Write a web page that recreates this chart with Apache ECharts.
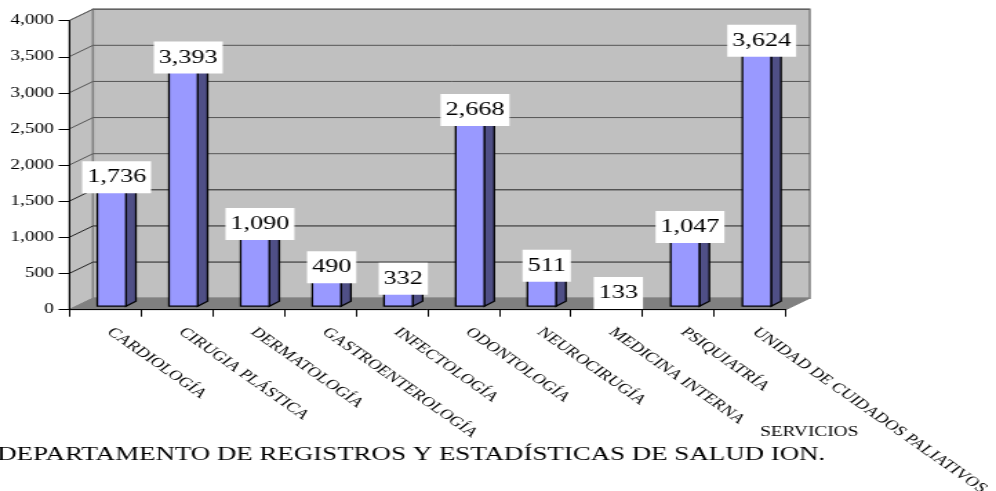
<!DOCTYPE html>
<html>
<head>
<meta charset="utf-8">
<title>Servicios</title>
<script src="https://cdn.jsdelivr.net/npm/echarts@6/dist/echarts.min.js"></script>
<style>
  html, body { margin: 0; padding: 0; background: #fff; overflow: hidden; }
  /* the reference is a chart stretched sideways, so the whole canvas is stretched too */
  #Bar { width: 722px; height: 491px; transform: scaleX(1.3795); transform-origin: 0 0; }
</style>
</head>
<body>
<div id="Bar"></div>
<script>
var categories = ["CARDIOLOGÍA", "CIRUGIA PLÁSTICA", "DERMATOLOGÍA", "GASTROENTEROLOGÍA", "INFECTOLOGÍA", "ODONTOLOGÍA", "NEUROCIRUGÍA", "MEDICINA INTERNA", "PSIQUIATRÍA", "UNIDAD DE CUIDADOS PALIATIVOS"];
var values = [1736, 3393, 1090, 490, 332, 2668, 511, 133, 1047, 3624];
var yTicks = [0, 500, 1000, 1500, 2000, 2500, 3000, 3500, 4000];
var sourceText = "DEPARTAMENTO DE REGISTROS Y ESTADÍSTICAS DE SALUD ION.";
var xAxisTitle = "SERVICIOS";

var depthX = 17.4, depthY = -11.5;
var myChart = echarts.init(document.getElementById("Bar"), null, { renderer: "canvas" });

function renderWalls(params, api) {
  var gridRect = params.coordSys;
  var left = gridRect.x, right = gridRect.x + gridRect.width;
  var bottom = api.coord([0, 0])[1], top = api.coord([0, 4000])[1];
  var children = [
    { type: "polygon", shape: { points: [[left, bottom], [left + depthX, bottom + depthY], [left + depthX, top + depthY], [left, top]] },
      style: { fill: "#C0C0C0", stroke: "#808080", lineWidth: 1 } },
    { type: "rect", shape: { x: left + depthX, y: top + depthY, width: right - left, height: bottom - top },
      style: { fill: "#C0C0C0", stroke: "#808080", lineWidth: 1.5 } },
    { type: "polygon", shape: { points: [[left, bottom], [right, bottom], [right + depthX, bottom + depthY], [left + depthX, bottom + depthY]] },
      style: { fill: "#808080", stroke: "#808080", lineWidth: 1 } }
  ];
  yTicks.forEach(function (t) {
    if (t === 0) return;
    var y = api.coord([0, t])[1];
    children.push({ type: "polyline", shape: { points: [[left, y], [left + depthX, y + depthY], [right + depthX, y + depthY]] },
      style: { fill: null, stroke: t >= 2000 ? "#555" : "#222", lineWidth: 1 } });
  });
  return { type: "group", children: children };
}

function renderBar(params, api) {
  var band = api.size([1, 0])[0];
  var base = api.coord([api.value(0), 0]);
  var top = api.coord([api.value(0), api.value(1)]);
  var w = band * 0.4, sx = 7.2, sy = -5;
  var x0 = base[0] - band * 0.105;
  var y0 = base[1] - 3.5, y1 = top[1] - 3.5;
  var value = api.value(1);
  return {
    type: "group",
    children: [
      { type: "polygon", shape: { points: [[x0 + w, y0], [x0 + w + sx, y0 + sy], [x0 + w + sx, y1 + sy], [x0 + w, y1]] },
        style: { fill: "#4F4F86", stroke: "#000", lineWidth: 1.3 } },
      { type: "rect", shape: { x: x0, y: y1, width: w, height: y0 - y1 },
        style: { fill: "#9999FF", stroke: "#000", lineWidth: 1.3 } },
      { type: "text", x: x0 + (w + sx) / 2, y: y1 - 3.5,
        style: { text: value.toLocaleString("en-US"), fontFamily: "Liberation Serif", fontSize: 19, fill: "#000",
          align: "center", verticalAlign: "middle", backgroundColor: "#fff", padding: [7, 3.6, 6, 3.6] } }
    ]
  };
}

var option = {
  animation: false,
  textStyle: { fontFamily: "Liberation Serif" },
  title: [
    { text: sourceText, left: -2, top: 445, padding: 0, textStyle: { fontFamily: "Liberation Serif", fontSize: 19.5, fontWeight: "normal", color: "#000" } },
    { text: xAxisTitle, left: 551, top: 425, padding: 0, textStyle: { fontFamily: "Liberation Serif", fontSize: 14, fontWeight: "normal", color: "#000" } }
  ],
  grid: { left: 50, top: 20.7, width: 519.6, height: 289, outerBoundsMode: "none" },
  xAxis: {
    type: "category",
    data: categories,
    z: 5,
    axisLine: { lineStyle: { color: "#000", width: 1 } },
    axisTick: { show: true, length: 7, lineStyle: { color: "#000" } },
    axisLabel: { interval: 0, rotate: -44, margin: 17, padding: [0, 0, 0, 5], color: "#000", fontFamily: "Liberation Serif", fontSize: 13.7 }
  },
  yAxis: {
    type: "value",
    min: 0,
    max: 4000,
    interval: 500,
    z: 5,
    axisLine: { show: true, lineStyle: { color: "#000", width: 1 } },
    axisTick: { show: true, length: 7.5, lineStyle: { color: "#000" } },
    splitLine: { show: false },
    axisLabel: { margin: 11, color: "#000", fontFamily: "Liberation Serif", fontSize: 14,
      formatter: function (v) { return v.toLocaleString("en-US"); } }
  },
  series: [
    { type: "custom", renderItem: renderWalls, data: [[0, 0]], silent: true, z: 1, clip: false },
    { type: "custom", renderItem: renderBar, z: 2, clip: false,
      encode: { x: 0, y: 1 },
      data: values.map(function (v, i) { return [i, v]; }) }
  ]
};

option && myChart.setOption(option);
</script>
</body>
</html>
